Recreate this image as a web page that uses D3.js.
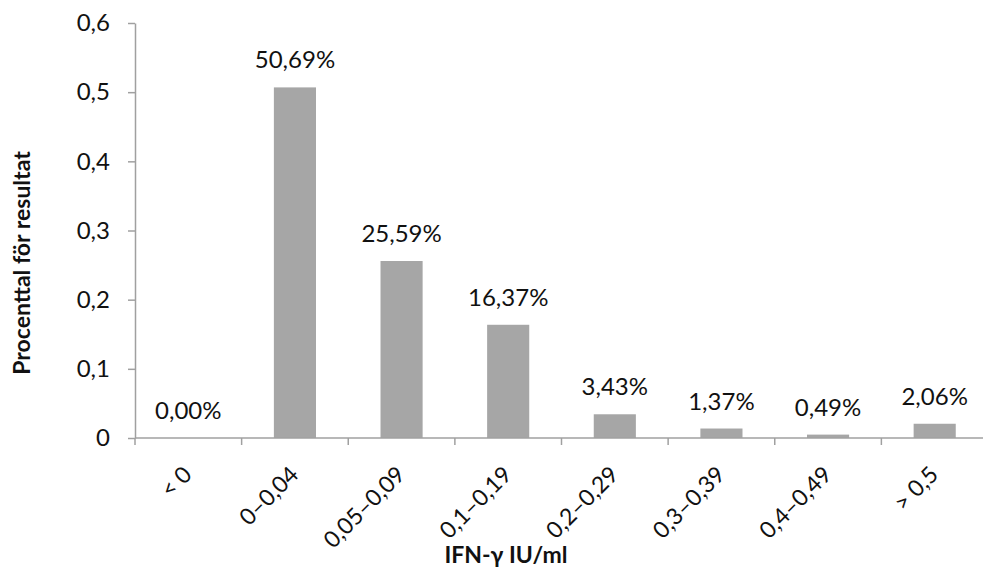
<!DOCTYPE html>
<html>
<head>
<meta charset="utf-8">
<script src="https://cdn.jsdelivr.net/npm/d3@7"></script>
<style>
  html, body { margin: 0; padding: 0; background: #fff; }
  svg { display: block; }
</style>
</head>
<body>
<svg id="chart" width="983" height="567"></svg>
<script>
// IFN-γ result distribution
const categories = ["< 0", "0–0,04", "0,05–0,09", "0,1–0,19", "0,2–0,29", "0,3–0,39", "0,4–0,49", "> 0,5"];
const values = [0.0000, 0.5069, 0.2559, 0.1637, 0.0343, 0.0137, 0.0049, 0.0206];
const valueLabels = ["0,00%", "50,69%", "25,59%", "16,37%", "3,43%", "1,37%", "0,49%", "2,06%"];
const yTicks = [0, 0.1, 0.2, 0.3, 0.4, 0.5, 0.6];
const yTickLabels = ["0", "0,1", "0,2", "0,3", "0,4", "0,5", "0,6"];
const xTitle = "IFN-γ IU/ml";
const yTitle = "Procenttal för resultat";

const svg = d3.select("#chart");
const font = "Lato, 'Open Sans', sans-serif";
const titleFont = "Lato, 'DejaVu Sans', sans-serif";
const axisColor = "#a0a0a0";
const textColor = "#111";

const x = d3.scaleBand().domain(categories).range([135, 988]);
const y = d3.scaleLinear().domain([0, 0.6]).range([438, 23]);
const barWidth = x.bandwidth() * 0.395;
const cx = c => x(c) + x.bandwidth() / 2;

// bars
svg.append("g").selectAll("rect").data(values).join("rect")
  .attr("x", (d, i) => cx(categories[i]) - barWidth / 2)
  .attr("width", barWidth)
  .attr("y", d => y(d))
  .attr("height", d => y(0) - y(d))
  .attr("fill", "#a6a6a6");

// value labels above bars
svg.append("g").selectAll("text").data(values).join("text")
  .attr("x", (d, i) => cx(categories[i]))
  .attr("y", d => y(d) - 19)
  .attr("text-anchor", "middle")
  .attr("font-family", font)
  .attr("font-size", 24)
  .attr("fill", textColor)
  .text((d, i) => valueLabels[i]);

// y axis
const yAxis = d3.axisLeft(y).tickValues(yTicks).tickFormat((d, i) => yTickLabels[i]).tickSize(7).tickSizeOuter(0);
const gy = svg.append("g").attr("transform", "translate(135,0)").call(yAxis);
gy.select(".domain").attr("stroke", axisColor).attr("stroke-width", 1.5);
gy.selectAll(".tick line").attr("stroke", axisColor).attr("stroke-width", 1.5);
gy.selectAll(".tick text").attr("font-family", font).attr("font-size", 24).attr("fill", textColor).attr("x", -25);

// x axis with ticks at band boundaries
const gx = svg.append("g").attr("transform", `translate(0,${y(0)})`);
gx.append("line").attr("x1", 135).attr("x2", 988).attr("stroke", axisColor).attr("stroke-width", 1.5);
const bounds = categories.map(c => x(c)).concat([x.range()[1]]);
gx.selectAll("line.tk").data(bounds).join("line").attr("class", "tk")
  .attr("x1", d => d).attr("x2", d => d).attr("y1", 0).attr("y2", 7)
  .attr("stroke", axisColor).attr("stroke-width", 1.5);
gx.selectAll("text").data(categories).join("text")
  .attr("transform", d => `translate(${cx(d) + 5},38) rotate(-45)`)
  .attr("text-anchor", "end")
  .attr("font-family", font)
  .attr("font-size", 23)
  .attr("fill", textColor)
  .text(d => d);

// axis titles
svg.append("text").attr("x", 506).attr("y", 563).attr("text-anchor", "middle")
  .attr("font-family", titleFont).attr("font-weight", "bold").attr("font-size", 23).attr("fill", textColor)
  .text(xTitle);
svg.append("text").attr("transform", "translate(30,263) rotate(-90)").attr("text-anchor", "middle")
  .attr("font-family", titleFont).attr("font-weight", "bold").attr("font-size", 23).attr("fill", textColor)
  .text(yTitle);
</script>
</body>
</html>
